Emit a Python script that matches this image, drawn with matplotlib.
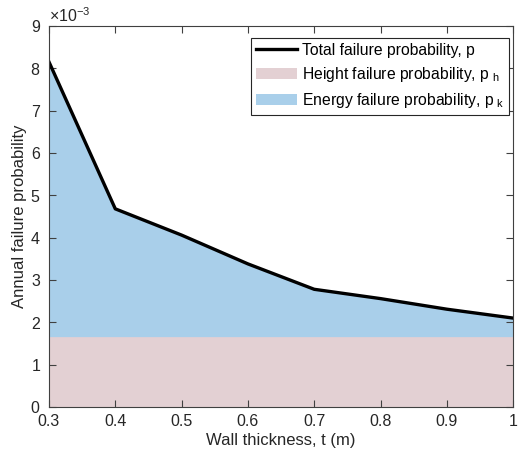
import matplotlib
matplotlib.use("Agg")
import matplotlib.pyplot as plt
import numpy as np
from matplotlib.ticker import ScalarFormatter

plt.rcParams["font.family"] = ["Liberation Sans", "DejaVu Sans"]
plt.rcParams["mathtext.fontset"] = "custom"
plt.rcParams["mathtext.rm"] = "Liberation Sans"

# wall thickness (m) and annual failure probabilities
thickness = np.array([0.3, 0.4, 0.5, 0.6, 0.7, 0.8, 0.9, 1.0])
p_total = np.array([8.15, 4.68, 4.06, 3.38, 2.78, 2.56, 2.31, 2.10]) * 1e-3
p_height = np.array([1.65, 1.65, 1.65, 1.65, 1.65, 1.65, 1.65, 1.65]) * 1e-3
p_energy = p_total - p_height

axcol = "#404040"
fig = plt.figure(figsize=(5.29, 4.55), dpi=100)
ax = fig.add_axes([0.0926, 0.1055, 0.8774, 0.8375])

# stacked areas: height part at the bottom, energy part on top
polys = ax.stackplot(thickness, p_height, p_energy,
                     colors=["#e3d0d3", "#a9cfea"], linewidth=0)
line, = ax.plot(thickness, p_total, color="black", linewidth=2.4)

ax.set_xlim(0.3, 1.0)
ax.set_ylim(0, 9e-3)
ax.set_xticks(np.arange(0.3, 1.01, 0.1))
ax.set_xticklabels(["0.3", "0.4", "0.5", "0.6", "0.7", "0.8", "0.9", "1"])
ax.set_yticks(np.arange(0, 9.1e-3, 1e-3))

fmt = ScalarFormatter(useMathText=True)
fmt.set_powerlimits((0, 0))
ax.yaxis.set_major_formatter(fmt)
ax.yaxis.get_offset_text().set_fontsize(11.5)
ax.yaxis.get_offset_text().set_color("#262626")

ax.tick_params(direction="in", top=True, right=True, length=5,
               labelsize=11.5, colors=axcol, labelcolor="#262626")
ax.tick_params(axis="x", pad=5)
ax.tick_params(axis="y", pad=6)
for s in ax.spines.values():
    s.set_color(axcol)
    s.set_linewidth(0.8)

ax.set_xlabel("Wall thickness, t (m)", fontsize=12, color="#262626", labelpad=3)
ax.set_ylabel("Annual failure probability", fontsize=12, color="#262626", labelpad=2)

leg = ax.legend([line, polys[0], polys[1]],
                ["Total failure probability, p",
                 r"Height failure probability, p$\mathregular{_{\ h}}$",
                 r"Energy failure probability, p$\mathregular{_{\ k}}$"],
                loc="upper right", bbox_to_anchor=(0.991, 0.968),
                borderaxespad=0, fontsize=11.3, frameon=True, fancybox=False,
                edgecolor="#262626", framealpha=1, borderpad=0.3,
                handlelength=2.65, handletextpad=0.3, labelspacing=0.45)
leg.get_frame().set_linewidth(0.8)

fig.savefig("out.png", dpi=100)
